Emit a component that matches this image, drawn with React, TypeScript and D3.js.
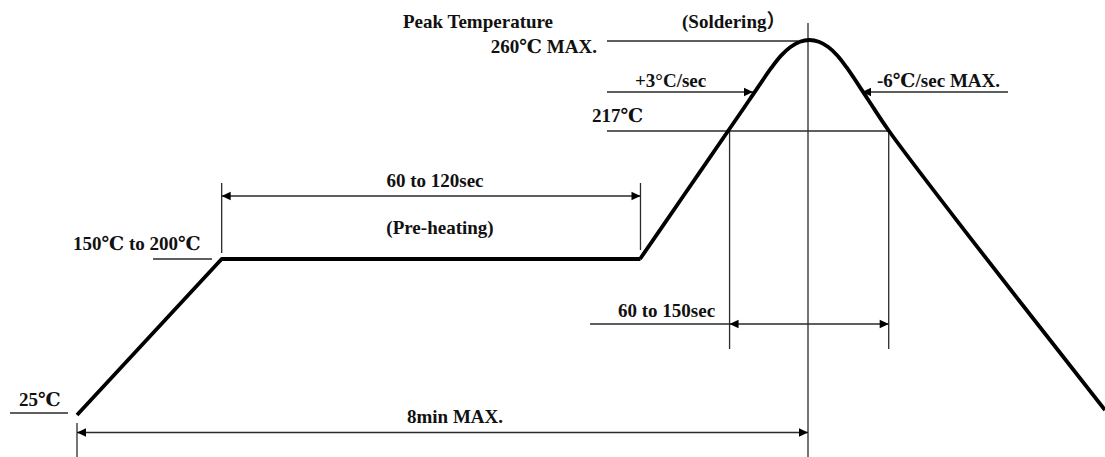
import React from "react";
import * as d3 from "d3";

// ---- data (schematic reflow profile) ----
const rampTimes = [0, 95, 370];
const rampTemps = [25, 175, 175];
const peakTimes = [369.7, 398.6, 427.5, 441.9, 456.0, 462.3, 468.5, 474.7, 480.9, 487.1, 493.3, 499.4, 505.5, 519.4, 533.2, 587.7, 675];
const peakTemps = [175, 196.0, 217, 232.1, 246.9, 252.6, 256.7, 259.2, 260, 259.2, 256.7, 252.6, 246.9, 231.9, 217, 181.2, 29.8];

const timeDomain = [0, 480];
const tempDomain = [25, 175, 217, 260];

const W = 1105;
const H = 457;

const x = d3.scaleLinear().domain(timeDomain).range([77, 808]);
const y = d3.scaleLinear().domain(tempDomain).range([415, 259, 131, 40]);

const FONT = "'Liberation Serif', 'Times New Roman', 'DejaVu Serif', 'Noto Sans CJK SC', serif";
const THIN = "#2a2a2a";

function Arrow({ tipX, tipY, dir }: { tipX: number; tipY: number; dir: 1 | -1 }) {
  const len = 9;
  const hw = 4.2;
  const bx = tipX - dir * len;
  return <path d={`M${tipX},${tipY}L${bx},${tipY - hw}L${bx},${tipY + hw}Z`} fill="#000" />;
}

function Label({ x: lx, y: ly, text, anchor = "start" }: { x: number; y: number; text: string; anchor?: string }) {
  return (
    <text x={lx} y={ly} textAnchor={anchor as any} fontFamily={FONT} fontWeight="bold" fontSize={19} fill="#111">
      {text}
    </text>
  );
}

export default function App() {
  const rampLine = d3
    .line<number>()
    .x((d) => x(d))
    .y((_, i) => y(rampTemps[i]));
  const peakLine = d3
    .line<number>()
    .x((d) => x(d))
    .y((_, i) => y(peakTemps[i]))
    .curve(d3.curveCatmullRom.alpha(0.5));

  const tPre0 = rampTimes[1];
  const tPre1 = rampTimes[2];
  const t217a = 428.5;
  const t217b = 533;
  const tPeak = 480;

  const yPre = y(175);
  const y217 = y(217);
  const y260 = y(260) + 1;
  const y25 = y(25) - 2;

  const rowSlope = 92;
  const rowPre = 196;
  const row150 = 324;
  const rowTotal = 432.5;

  return (
    <svg width={W} height={H} style={{ position: "absolute", left: 0, top: 0, background: "#fff" }}>
      <g stroke={THIN} strokeWidth={1.3} fill="none">
        <line x1={x(tPeak)} y1={23} x2={x(tPeak)} y2={H} />
        <line x1={607} y1={y260} x2={x(tPeak) - 10} y2={y260} />
        <line x1={607} y1={y217} x2={x(t217b)} y2={y217} />
        <line x1={607} y1={rowSlope} x2={753} y2={rowSlope} />
        <line x1={1008} y1={rowSlope} x2={862} y2={rowSlope} />
        <line x1={x(tPre0)} y1={183} x2={x(tPre0)} y2={yPre - 6} />
        <line x1={x(tPre1)} y1={183} x2={x(tPre1)} y2={yPre - 9} />
        <line x1={x(tPre0)} y1={rowPre} x2={x(tPre1)} y2={rowPre} />
        <line x1={153} y1={yPre} x2={212} y2={yPre} />
        <line x1={10} y1={y25} x2={68} y2={y25} />
        <line x1={x(t217a)} y1={y217} x2={x(t217a)} y2={349} />
        <line x1={x(t217b)} y1={y217} x2={x(t217b)} y2={349} />
        <line x1={590} y1={row150} x2={x(t217b)} y2={row150} />
        <line x1={x(0)} y1={423} x2={x(0)} y2={H} />
        <line x1={x(0)} y1={rowTotal} x2={x(tPeak)} y2={rowTotal} />
      </g>

      <Arrow tipX={753} tipY={rowSlope} dir={1} />
      <Arrow tipX={862} tipY={rowSlope} dir={-1} />
      <Arrow tipX={x(tPre0)} tipY={rowPre} dir={-1} />
      <Arrow tipX={x(tPre1)} tipY={rowPre} dir={1} />
      <Arrow tipX={x(t217a)} tipY={row150} dir={-1} />
      <Arrow tipX={x(t217b)} tipY={row150} dir={1} />
      <Arrow tipX={x(0)} tipY={rowTotal} dir={-1} />
      <Arrow tipX={x(tPeak)} tipY={rowTotal} dir={1} />

      <path d={rampLine(rampTimes) || ""} fill="none" stroke="#000" strokeWidth={3.8} strokeLinejoin="round" />
      <path d={peakLine(peakTimes) || ""} fill="none" stroke="#000" strokeWidth={3.8} strokeLinejoin="round" />

      <Label x={403} y={28} text="Peak Temperature" />
      <Label x={597} y={53} text="260℃ MAX." anchor="end" />
      <Label x={682} y={28} text="(Soldering）" />
      <Label x={635} y={87} text="+3°C/sec" />
      <Label x={877} y={87} text="-6℃/sec MAX." />
      <Label x={592} y={122} text="217℃" />
      <Label x={435} y={187} text="60 to 120sec" anchor="middle" />
      <Label x={440} y={234} text="(Pre-heating)" anchor="middle" />
      <Label x={73} y={250} text="150℃ to 200℃" />
      <Label x={618} y={317} text="60 to 150sec" />
      <Label x={19} y={406} text="25℃" />
      <Label x={455} y={423} text="8min MAX." anchor="middle" />
    </svg>
  );
}
